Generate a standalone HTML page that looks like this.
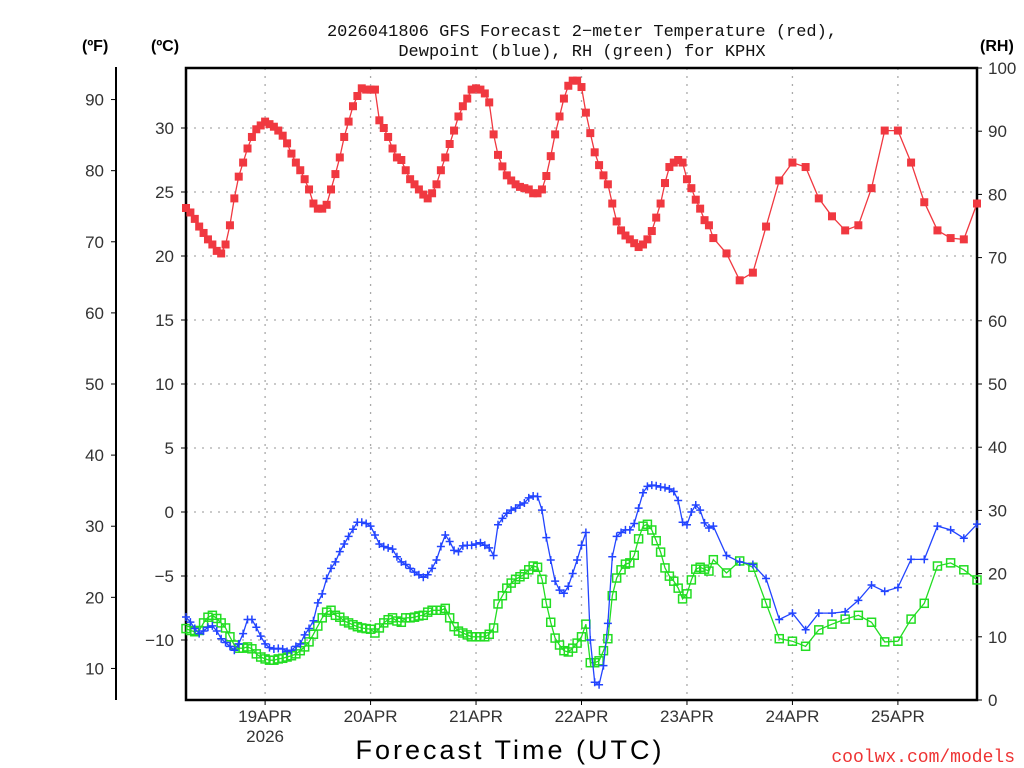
<!DOCTYPE html>
<html><head><meta charset="utf-8"><style>
body{margin:0;background:#fff;}
svg{display:block;font-family:"Liberation Sans",sans-serif;}
</style></head><body>
<svg id="chart" width="1024" height="768" viewBox="0 0 1024 768" xmlns="http://www.w3.org/2000/svg">
<text x="582" y="36" text-anchor="middle" font-size="17" fill="#111" font-family="Liberation Mono, monospace">2026041806 GFS Forecast 2−meter Temperature (red),</text>
<text x="582" y="56" text-anchor="middle" font-size="17" fill="#111" font-family="Liberation Mono, monospace">Dewpoint (blue), RH (green) for KPHX</text>
<text x="82" y="51" font-size="16" font-weight="bold" fill="#000">(ºF)</text>
<text x="151" y="51" font-size="16" font-weight="bold" fill="#000">(ºC)</text>
<text x="980" y="51" font-size="16" font-weight="bold" fill="#000">(RH)</text>
<g id="grid"></g>
<g id="axes"></g>
<g id="series"></g>
<text x="510" y="759" text-anchor="middle" font-size="27" fill="#000" letter-spacing="3">Forecast Time (UTC)</text>
<text x="1015" y="762" text-anchor="end" font-size="18" fill="#e33" font-family="Liberation Mono, monospace">coolwx.com/models</text>
</svg>
<script>
const dayLabels = ["19APR","20APR","21APR","22APR","23APR","24APR","25APR"];
const dayHours = [18,42,66,90,114,138,162];
const celsiusTicks = [30,25,20,15,10,5,0,-5,-10];
const fahrenheitTicks = [90,80,70,60,50,40,30,20,10];
const rhTicks = [0,10,20,30,40,50,60,70,80,90,100];
const hourlyCount = 121;
const threeHourlyHours = [123,126,129,132,135,138,141,144,147,150,153,156,159,162,165,168,171,174,177,180];
const tempHourly = [23.75,23.4,22.9,22.3,21.8,21.3,20.9,20.4,20.2,20.9,22.4,24.5,26.2,27.3,28.4,29.3,29.9,30.2,30.5,30.3,30.1,29.8,29.4,28.8,28.0,27.3,26.7,26.0,25.2,24.1,23.7,23.7,24.0,25.2,26.4,27.7,29.3,30.5,31.7,32.5,33.1,33.0,33.0,33.0,30.6,30.0,29.3,28.4,27.7,27.5,26.7,26.0,25.6,25.2,24.8,24.5,24.9,25.6,26.7,27.7,28.75,29.8,30.9,31.7,32.3,33.0,33.1,33.0,32.7,32.0,29.5,27.9,27.0,26.3,25.9,25.6,25.4,25.3,25.2,24.9,24.9,25.2,26.25,27.8,29.5,30.9,32.3,33.3,33.7,33.7,33.2,31.2,29.6,28.1,27.1,26.3,25.6,24.1,22.7,22.0,21.6,21.3,21.0,20.7,20.9,21.3,21.95,23.0,24.1,25.7,26.95,27.3,27.5,27.3,26.0,25.3,24.4,23.7,22.8,22.4,21.4];
const tempThreeHourly = [20.2,18.1,18.7,22.3,25.9,27.3,26.95,24.5,23.1,22.0,22.4,25.3,29.8,29.8,27.3,24.2,22.0,21.4,21.3,24.1];
const dewHourly = [-8.2,-8.6,-9.1,-9.5,-9.3,-9.0,-8.9,-9.3,-9.9,-10.2,-10.5,-10.8,-10.3,-9.5,-8.4,-8.4,-9.0,-9.7,-10.3,-10.6,-10.7,-10.65,-10.7,-10.9,-10.8,-10.5,-10.3,-9.6,-9.1,-8.5,-7.1,-6.4,-5.2,-4.4,-3.9,-3.1,-2.5,-1.9,-1.35,-0.8,-0.8,-0.9,-1.1,-1.8,-2.5,-2.7,-2.8,-2.9,-3.5,-3.9,-4.1,-4.4,-4.7,-4.9,-5.1,-4.9,-4.4,-3.75,-2.7,-1.8,-2.3,-3.0,-3.1,-2.65,-2.6,-2.6,-2.5,-2.4,-2.6,-2.8,-3.4,-1.0,-0.5,-0.1,0.15,0.3,0.55,0.7,1.1,1.25,1.2,0.15,-2.0,-3.75,-5.4,-6.1,-6.35,-5.8,-4.8,-3.75,-2.6,-1.6,-10.0,-13.3,-13.5,-12.0,-8.7,-3.5,-1.9,-1.6,-1.4,-1.4,-0.9,0.3,1.5,2.0,2.1,2.05,1.95,1.9,1.8,1.6,0.9,-0.8,-1.0,0.0,0.55,0.15,-0.85,-1.25,-1.1];
const dewThreeHourly = [-3.4,-3.9,-4.1,-5.2,-8.4,-7.9,-9.2,-7.9,-7.9,-7.8,-6.9,-5.7,-6.2,-5.9,-3.7,-3.7,-1.1,-1.4,-2.05,-0.95];
const rhHourly = [11.3,11.0,10.8,11.0,12.2,13.1,13.4,12.9,12.2,11.4,10.0,8.7,8.2,8.2,8.4,8.1,7.3,6.8,6.5,6.3,6.3,6.5,6.6,6.8,7.0,7.3,7.8,8.4,9.2,10.4,11.7,13.0,13.9,14.2,13.4,13.1,12.5,12.2,11.9,11.6,11.4,11.3,11.2,10.6,11.4,12.2,12.7,13.0,12.5,12.3,13.0,13.0,13.1,13.3,13.4,13.9,14.2,14.2,14.2,14.5,13.0,11.6,10.9,10.6,10.3,10.0,10.0,10.0,10.0,10.4,11.4,15.2,16.5,17.7,18.5,19.1,19.5,19.9,20.6,21.2,21.0,19.1,15.3,12.3,9.8,8.7,7.8,7.6,8.2,9.0,10.0,12.0,5.9,5.9,6.2,7.8,9.7,16.5,19.3,20.6,21.5,21.7,22.9,25.5,27.5,27.8,26.9,25.2,23.4,20.9,19.6,18.8,17.7,16.0,16.8,19.0,20.7,21.0,20.7,20.4,22.2];
const rhThreeHourly = [20.1,22.0,21.0,15.3,9.7,9.3,8.5,11.1,12.0,12.8,13.4,12.3,9.2,9.3,12.8,15.3,21.2,21.7,20.6,19.0];

const NS = "http://www.w3.org/2000/svg";
const L = 186, R = 977, T = 68, B = 700, FAX = 116;
const xOf = h => L + (R - L) * h / 180;
const yC = c => 512 - 12.8 * c;
const yF = f => yC((f - 32) * 5 / 9);
const yRH = r => B - (B - T) * r / 100;
function mk(tag, attrs, parent) {
  const e = document.createElementNS(NS, tag);
  for (const k in attrs) e.setAttribute(k, attrs[k]);
  parent.appendChild(e);
  return e;
}
const grid = document.getElementById('grid');
const axes = document.getElementById('axes');
const series = document.getElementById('series');

celsiusTicks.forEach(c => {
  const g = mk('line', {x1: L, x2: R, y1: yC(c), y2: yC(c), stroke: '#aaa', 'stroke-width': 1.3, 'stroke-dasharray': '2 6'}, grid);
  
  
  const t = mk('line', {x1: L - 5, x2: L, y1: yC(c), y2: yC(c), stroke: '#000', 'stroke-width': 1}, axes);
  
  
  const lb = mk('text', {x: 174, y: yC(c) + 6, 'text-anchor': 'end', 'font-size': 17, fill: '#333'}, axes);
  lb.textContent = c < 0 ? '\u2212' + Math.abs(c) : String(c);
  
  
});
dayHours.forEach((h, i) => {
  const g = mk('line', {x1: xOf(h), x2: xOf(h), y1: T, y2: B, stroke: '#aaa', 'stroke-width': 1.3, 'stroke-dasharray': '2 6'}, grid);
  
  
  const t = mk('line', {x1: xOf(h), x2: xOf(h), y1: B, y2: B + 5, stroke: '#000', 'stroke-width': 1}, axes);
  
  
  const lb = mk('text', {x: xOf(h), y: B + 22, 'text-anchor': 'middle', 'font-size': 17, fill: '#333'}, axes);
  lb.textContent = dayLabels[i];
  
  
});
const yr = mk('text', {x: xOf(dayHours[0]), y: B + 42, 'text-anchor': 'middle', 'font-size': 17, fill: '#333'}, axes);
yr.textContent = '2026';


fahrenheitTicks.forEach(f => {
  const t = mk('line', {x1: FAX - 5, x2: FAX, y1: yF(f), y2: yF(f), stroke: '#000', 'stroke-width': 1}, axes);
  
  
  const lb = mk('text', {x: 104, y: yF(f) + 6, 'text-anchor': 'end', 'font-size': 17, fill: '#333'}, axes);
  lb.textContent = String(f);
  
  
});
rhTicks.forEach(r => {
  const t = mk('line', {x1: R, x2: R + 5, y1: yRH(r), y2: yRH(r), stroke: '#000', 'stroke-width': 1}, axes);
  
  
  const lb = mk('text', {x: 988, y: yRH(r) + 6, 'font-size': 17, fill: '#333'}, axes);
  lb.textContent = String(r);
  
  
});
const fl = mk('line', {x1: FAX, x2: FAX, y1: T - 1, y2: B, stroke: '#000', 'stroke-width': 2}, axes);


const fr = mk('rect', {x: L, y: T, width: R - L, height: B - T, fill: 'none', stroke: '#000', 'stroke-width': 2.5}, axes);



const hours = [];
for (let i = 0; i < hourlyCount; i++) hours.push(i);
const allHours = hours.concat(threeHourlyHours);

function drawSeries(vals, yfn, color, kind, name) {
  const g = mk('g', {}, series);
  
  
  const pts = vals.map((v, i) => [xOf(allHours[i]), yfn(v)]);
  const pl = mk('polyline', {points: pts.map(p => p[0].toFixed(1) + ',' + p[1].toFixed(1)).join(' '), fill: 'none', stroke: color, 'stroke-width': 1.3}, g);
  
  
  pts.forEach(p => {
    let m;
    if (kind === 'fsq') {
      m = mk('rect', {x: p[0] - 4, y: p[1] - 4, width: 8, height: 8, fill: color}, g);
    } else if (kind === 'osq') {
      m = mk('rect', {x: p[0] - 4, y: p[1] - 4, width: 8, height: 8, fill: 'none', stroke: color, 'stroke-width': 1.5}, g);
    } else {
      m = mk('path', {d: `M${p[0]-4},${p[1]}h8M${p[0]},${p[1]-4}v8`, stroke: color, 'stroke-width': 1.5}, g);
    }
    
    
  });
}
drawSeries(rhHourly.concat(rhThreeHourly), yRH, '#22dd22', 'osq', 'rh-series');
drawSeries(dewHourly.concat(dewThreeHourly), yC, '#2244ff', 'plus', 'dewpoint-series');
drawSeries(tempHourly.concat(tempThreeHourly), yC, '#f03840', 'fsq', 'temperature-series');
</script>
</body></html>
